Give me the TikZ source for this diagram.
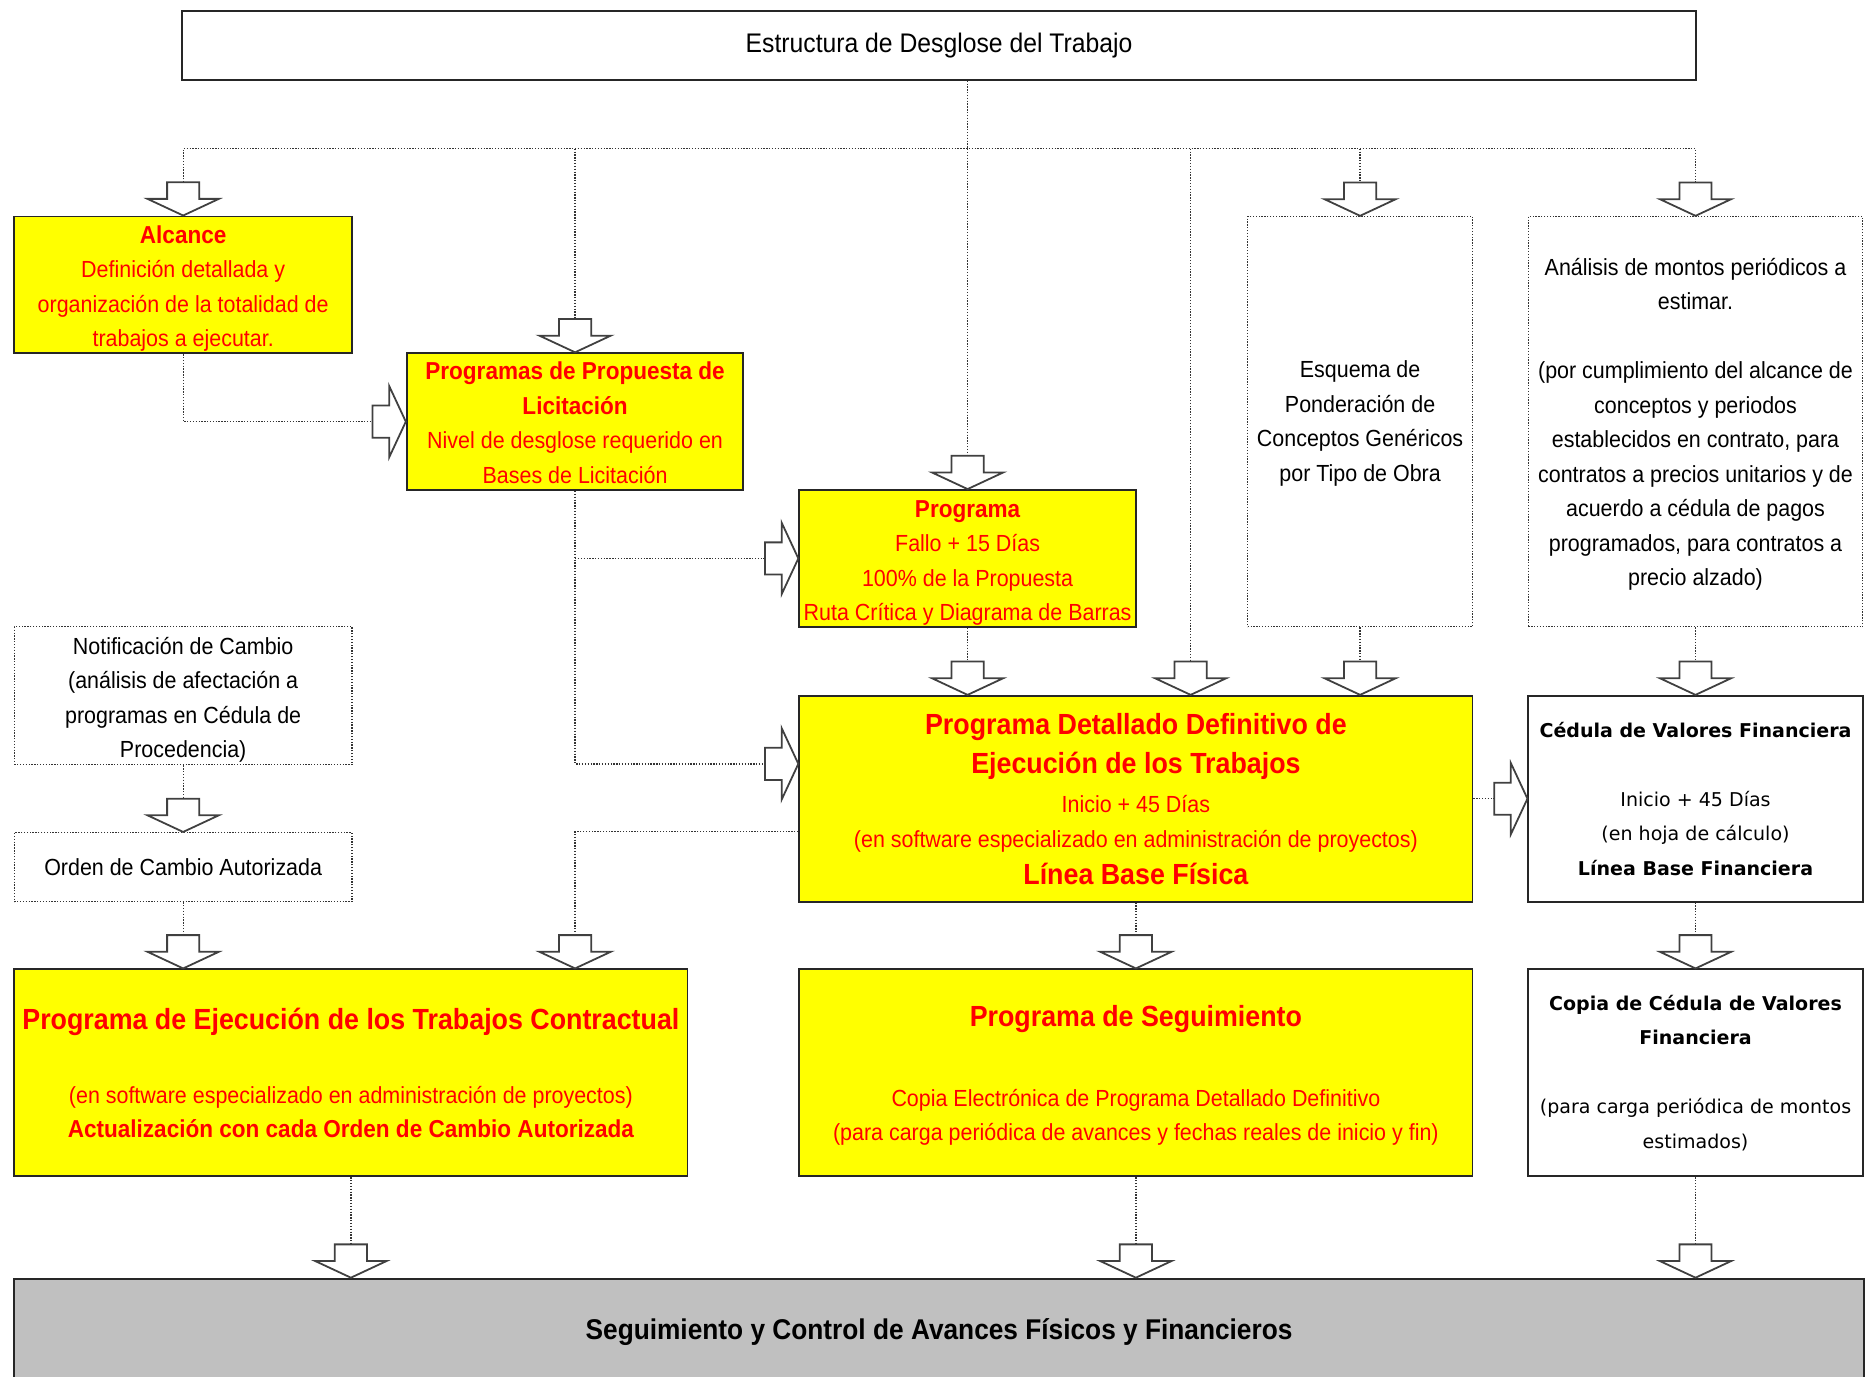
\documentclass[tikz,border=0pt]{standalone}
\usepackage{fontspec}
\setmainfont{Liberation Sans}
\newfontfamily\nf[FakeStretch=0.92]{Liberation Sans}
\newfontfamily\dv{DejaVu Sans}
\definecolor{ylw}{HTML}{FFFF00}
\definecolor{rd}{HTML}{FF0000}
\definecolor{gry}{HTML}{C0C0C0}
\newcommand\szS{\fontsize{19.6}{29}\selectfont}
\newcommand\szB{\fontsize{20.6}{29}\selectfont\bfseries}
\newcommand\szL{\fontsize{24.5}{29}\selectfont\bfseries}
\newcommand\szT{\fontsize{22.6}{29}\selectfont}
\newcommand\szD{\fontsize{16}{29}\selectfont}
\newcommand\up[1]{\rule{0pt}{#1pt}}
\begin{document}
\begin{tikzpicture}[x=1pt,y=-1pt,
  sbox/.style={draw=black!85, line width=1.6pt, inner sep=0pt, align=center},
  ybox/.style={sbox, fill=ylw, text=rd, font=\nf\szS},
  wbox/.style={sbox, fill=white, font=\dv\szD},
  dbox/.style={draw=black!80, line width=1.1pt, dash pattern=on 1.1pt off 1.3pt, inner sep=0pt, align=center, font=\nf\szS},
  conn/.style={draw=black!80, line width=1.1pt, dash pattern=on 1.1pt off 1.3pt},
  darrow/.pic={\draw[draw=black!75, fill=white, line width=1.5pt, line join=miter, solid] (0,0) -- (-30,-14) -- (-13.5,-14) -- (-13.5,-28) -- (13.5,-28) -- (13.5,-14) -- (30,-14) -- cycle;}
]
\useasboundingbox (0,0) rectangle (1568,1157);

\node[sbox, fill=white, font=\nf\szT, minimum width=1273pt, minimum height=58pt] (top) at (789.5,38) {Estructura de Desglose del Trabajo};

\node[ybox, minimum width=284pt, minimum height=115pt] (alc) at (154,239.5)
  {\up{21}{\szB Alcance}\\Definición detallada y\\organización de la totalidad de\\trabajos a ejecutar.};

\node[ybox, minimum width=283pt, minimum height=115pt] (prop) at (483.5,354.5)
  {\up{17}{\szB Programas de Propuesta de}\\{\szB Licitación}\\Nivel de desglose requerido en\\Bases de Licitación};

\node[ybox, minimum width=283pt, minimum height=115pt] (prog) at (813.5,469.5)
  {\up{22}{\szB Programa}\\Fallo + 15 Días\\100\% de la Propuesta\\Ruta Crítica y Diagrama de Barras};

\node[dbox, minimum width=189pt, minimum height=345pt] (esq) at (1143.5,354.5)
  {\up{17}Esquema de\\Ponderación de\\Conceptos Genéricos\\por Tipo de Obra};

\node[dbox, minimum width=281pt, minimum height=345pt] (ana) at (1425.5,354.5)
  {\up{19}Análisis de montos periódicos a\\estimar.\\[29pt](por cumplimiento del alcance de\\conceptos y periodos\\establecidos en contrato, para\\contratos a precios unitarios y de\\acuerdo a cédula de pagos\\programados, para contratos a\\precio alzado)};

\node[dbox, minimum width=284pt, minimum height=116pt] (notif) at (154,585)
  {\up{21}Notificación de Cambio\\(análisis de afectación a\\programas en Cédula de\\Procedencia)};

\node[dbox, minimum width=284pt, minimum height=58pt] (orden) at (154,729)
  {Orden de Cambio Autorizada};

\node[ybox, minimum width=566pt, minimum height=173pt] (det) at (955,671.5)
  {{\szL Programa Detallado Definitivo de}\\[4pt]{\szL Ejecución de los Trabajos}\\[4pt]Inicio + 45 Días\\(en software especializado en administración de proyectos)\\[2pt]{\szL Línea Base Física}};

\node[wbox, minimum width=281pt, minimum height=173pt] (ced) at (1425.5,671.5)
  {{\bfseries Cédula de Valores Financiera}\\[29pt]Inicio + 45 Días\\(en hoja de cálculo)\\{\bfseries Línea Base Financiera}};

\node[ybox, minimum width=566pt, minimum height=174pt] (contr) at (295,902)
  {{\szL Programa de Ejecución de los Trabajos Contractual}\\[33pt](en software especializado en administración de proyectos)\\{\szB Actualización con cada Orden de Cambio Autorizada}};

\node[ybox, minimum width=566pt, minimum height=174pt] (seg) at (955,902)
  {\up{22}{\szL Programa de Seguimiento}\\[38pt]Copia Electrónica de Programa Detallado Definitivo\\(para carga periódica de avances y fechas reales de inicio y fin)};

\node[wbox, minimum width=281pt, minimum height=174pt] (copia) at (1425.5,902)
  {{\bfseries Copia de Cédula de Valores}\\{\bfseries Financiera}\\[29pt](para carga periódica de montos\\estimados)};

\node[sbox, fill=gry, font=\nf\fontsize{24}{29}\selectfont\bfseries, minimum width=1555pt, minimum height=90pt] (gray) at (789.5,1120)
  {Seguimiento y Control de Avances Físicos y Financieros};

% helper coordinates
\coordinate (bus) at (813,125);
\coordinate (d0) at ([yshift=-58pt]det.north west);
\coordinate (d5) at ([yshift=-115pt]det.north west);
\coordinate (d1) at (det.north -| prog.south);
\coordinate (d2) at ([xshift=46pt]det.north);
\coordinate (d3) at (det.north -| esq.south);
\coordinate (c1) at (contr.north -| orden.south);
\coordinate (c2) at (contr.north -| prop.south);
\coordinate (g1) at (gray.north -| contr.south);
\coordinate (g2) at (gray.north -| seg.south);
\coordinate (g3) at (gray.north -| copia.south);

% connectors
\draw[conn] (top.south -| prog.north) -- ([yshift=28pt]prog.north);
\draw[conn] ([yshift=28pt]alc.north) |- (bus) -| ([yshift=28pt]ana.north);
\draw[conn] (prop.north |- bus) -- ([yshift=28pt]prop.north);
\draw[conn] (d2 |- bus) -- ([yshift=28pt]d2);
\draw[conn] (esq.north |- bus) -- ([yshift=28pt]esq.north);
\draw[conn] (alc.south) |- ([xshift=-28pt]prop.west);
\draw[conn] (prop.south) |- ([xshift=-28pt]d0);
\draw[conn] (prop.south |- prog.west) -- ([xshift=-28pt]prog.west);
\draw[conn] (d5) -| ([yshift=28pt]c2);
\draw[conn] (notif.south) -- ([yshift=28pt]orden.north);
\draw[conn] (orden.south) -- ([yshift=28pt]c1);
\draw[conn] (prog.south) -- ([yshift=28pt]d1);
\draw[conn] (esq.south) -- ([yshift=28pt]d3);
\draw[conn] (ana.south) -- ([yshift=28pt]ced.north);
\draw[conn] (det.east) -- ([xshift=-28pt]ced.west);
\draw[conn] (det.south) -- ([yshift=28pt]seg.north);
\draw[conn] (ced.south) -- ([yshift=28pt]copia.north);
\draw[conn] (contr.south) -- ([yshift=28pt]g1);
\draw[conn] (seg.south) -- ([yshift=28pt]g2);
\draw[conn] (copia.south) -- ([yshift=28pt]g3);

% block arrows
\pic at (alc.north) {darrow};
\pic at (prop.north) {darrow};
\pic at (prog.north) {darrow};
\pic at (esq.north) {darrow};
\pic at (ana.north) {darrow};
\pic at (d1) {darrow};
\pic at (d2) {darrow};
\pic at (d3) {darrow};
\pic at (ced.north) {darrow};
\pic at (orden.north) {darrow};
\pic at (c1) {darrow};
\pic at (c2) {darrow};
\pic at (seg.north) {darrow};
\pic at (copia.north) {darrow};
\pic at (g1) {darrow};
\pic at (g2) {darrow};
\pic at (g3) {darrow};
\pic[rotate=90] at (prop.west) {darrow};
\pic[rotate=90] at (prog.west) {darrow};
\pic[rotate=90] at (d0) {darrow};
\pic[rotate=90] at (ced.west) {darrow};
\end{tikzpicture}
\end{document}
